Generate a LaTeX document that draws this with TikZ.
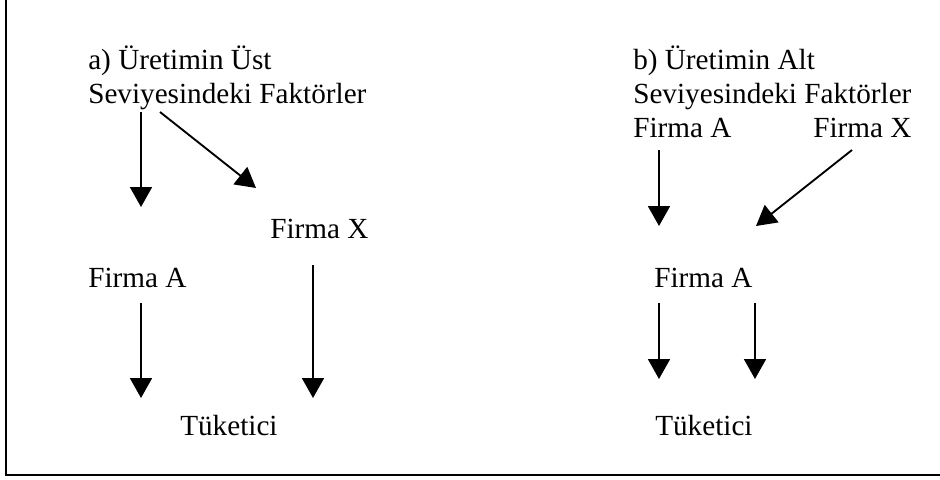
\documentclass[tikz,border=0pt]{standalone}
\usepackage{fontspec}
\setmainfont{Liberation Serif}
\usetikzlibrary{positioning,arrows.meta}

\begin{document}
\begin{tikzpicture}[x=0.75pt,y=-0.75pt,lbl/.style={anchor=base west,inner
sep=0pt,align=left,font=\fontsize{21.9}{25.2}\selectfont},arr/.style={-{Triangle[width=16.5pt,length=15pt]},line
width=1.4pt}]
\clip (0,0) rectangle (940,479);
\draw[line width=1.6pt] (6,-10) rectangle (960,475);
% a) ust seviye
\node[lbl] (ust) at (88,103) {a) Üretimin Üst\\Seviyesindeki Faktörler};
\node[lbl] (xa) at (270,238) {Firma X};
\node[lbl] (fa) at (88,287) {Firma A};
\node[lbl] (ta) at (180,435) {Tüketici};
\coordinate (u1) at (141,112);
\coordinate (u2) at (160,112);
\coordinate (fat) at (141,207);
\coordinate (xat) at (256,188);
\coordinate (fab) at (141,303);
\coordinate (xab) at (313,265);
\coordinate (ta1) at (141,398);
\coordinate (ta2) at (313,398);
\draw[arr] (u1) -- (fat);
\draw[arr] (u2) -- (xat);
\draw[arr] (fab) -- (ta1);
\draw[arr] (xab) -- (ta2);
% b) alt seviye
\node[lbl] (alt) at (633,103) {b) Üretimin Alt\\Seviyesindeki Faktörler};
\node[lbl] (fb) at (633,137) {Firma A};
\node[lbl] (xb) at (813,137) {Firma X};
\node[lbl] (fm) at (654,287) {Firma A};
\node[lbl] (tb) at (655,435) {Tüketici};
\coordinate (fb1) at (659,150);
\coordinate (xb1) at (852,150);
\coordinate (fmt1) at (659,226);
\coordinate (fmt2) at (756,226);
\coordinate (fm1) at (659,303);
\coordinate (fm2) at (755,303);
\coordinate (tb1) at (659,379);
\coordinate (tb2) at (755,379);
\draw[arr] (fb1) -- (fmt1);
\draw[arr] (xb1) -- (fmt2);
\draw[arr] (fm1) -- (tb1);
\draw[arr] (fm2) -- (tb2);
\end{tikzpicture}
\end{document}
